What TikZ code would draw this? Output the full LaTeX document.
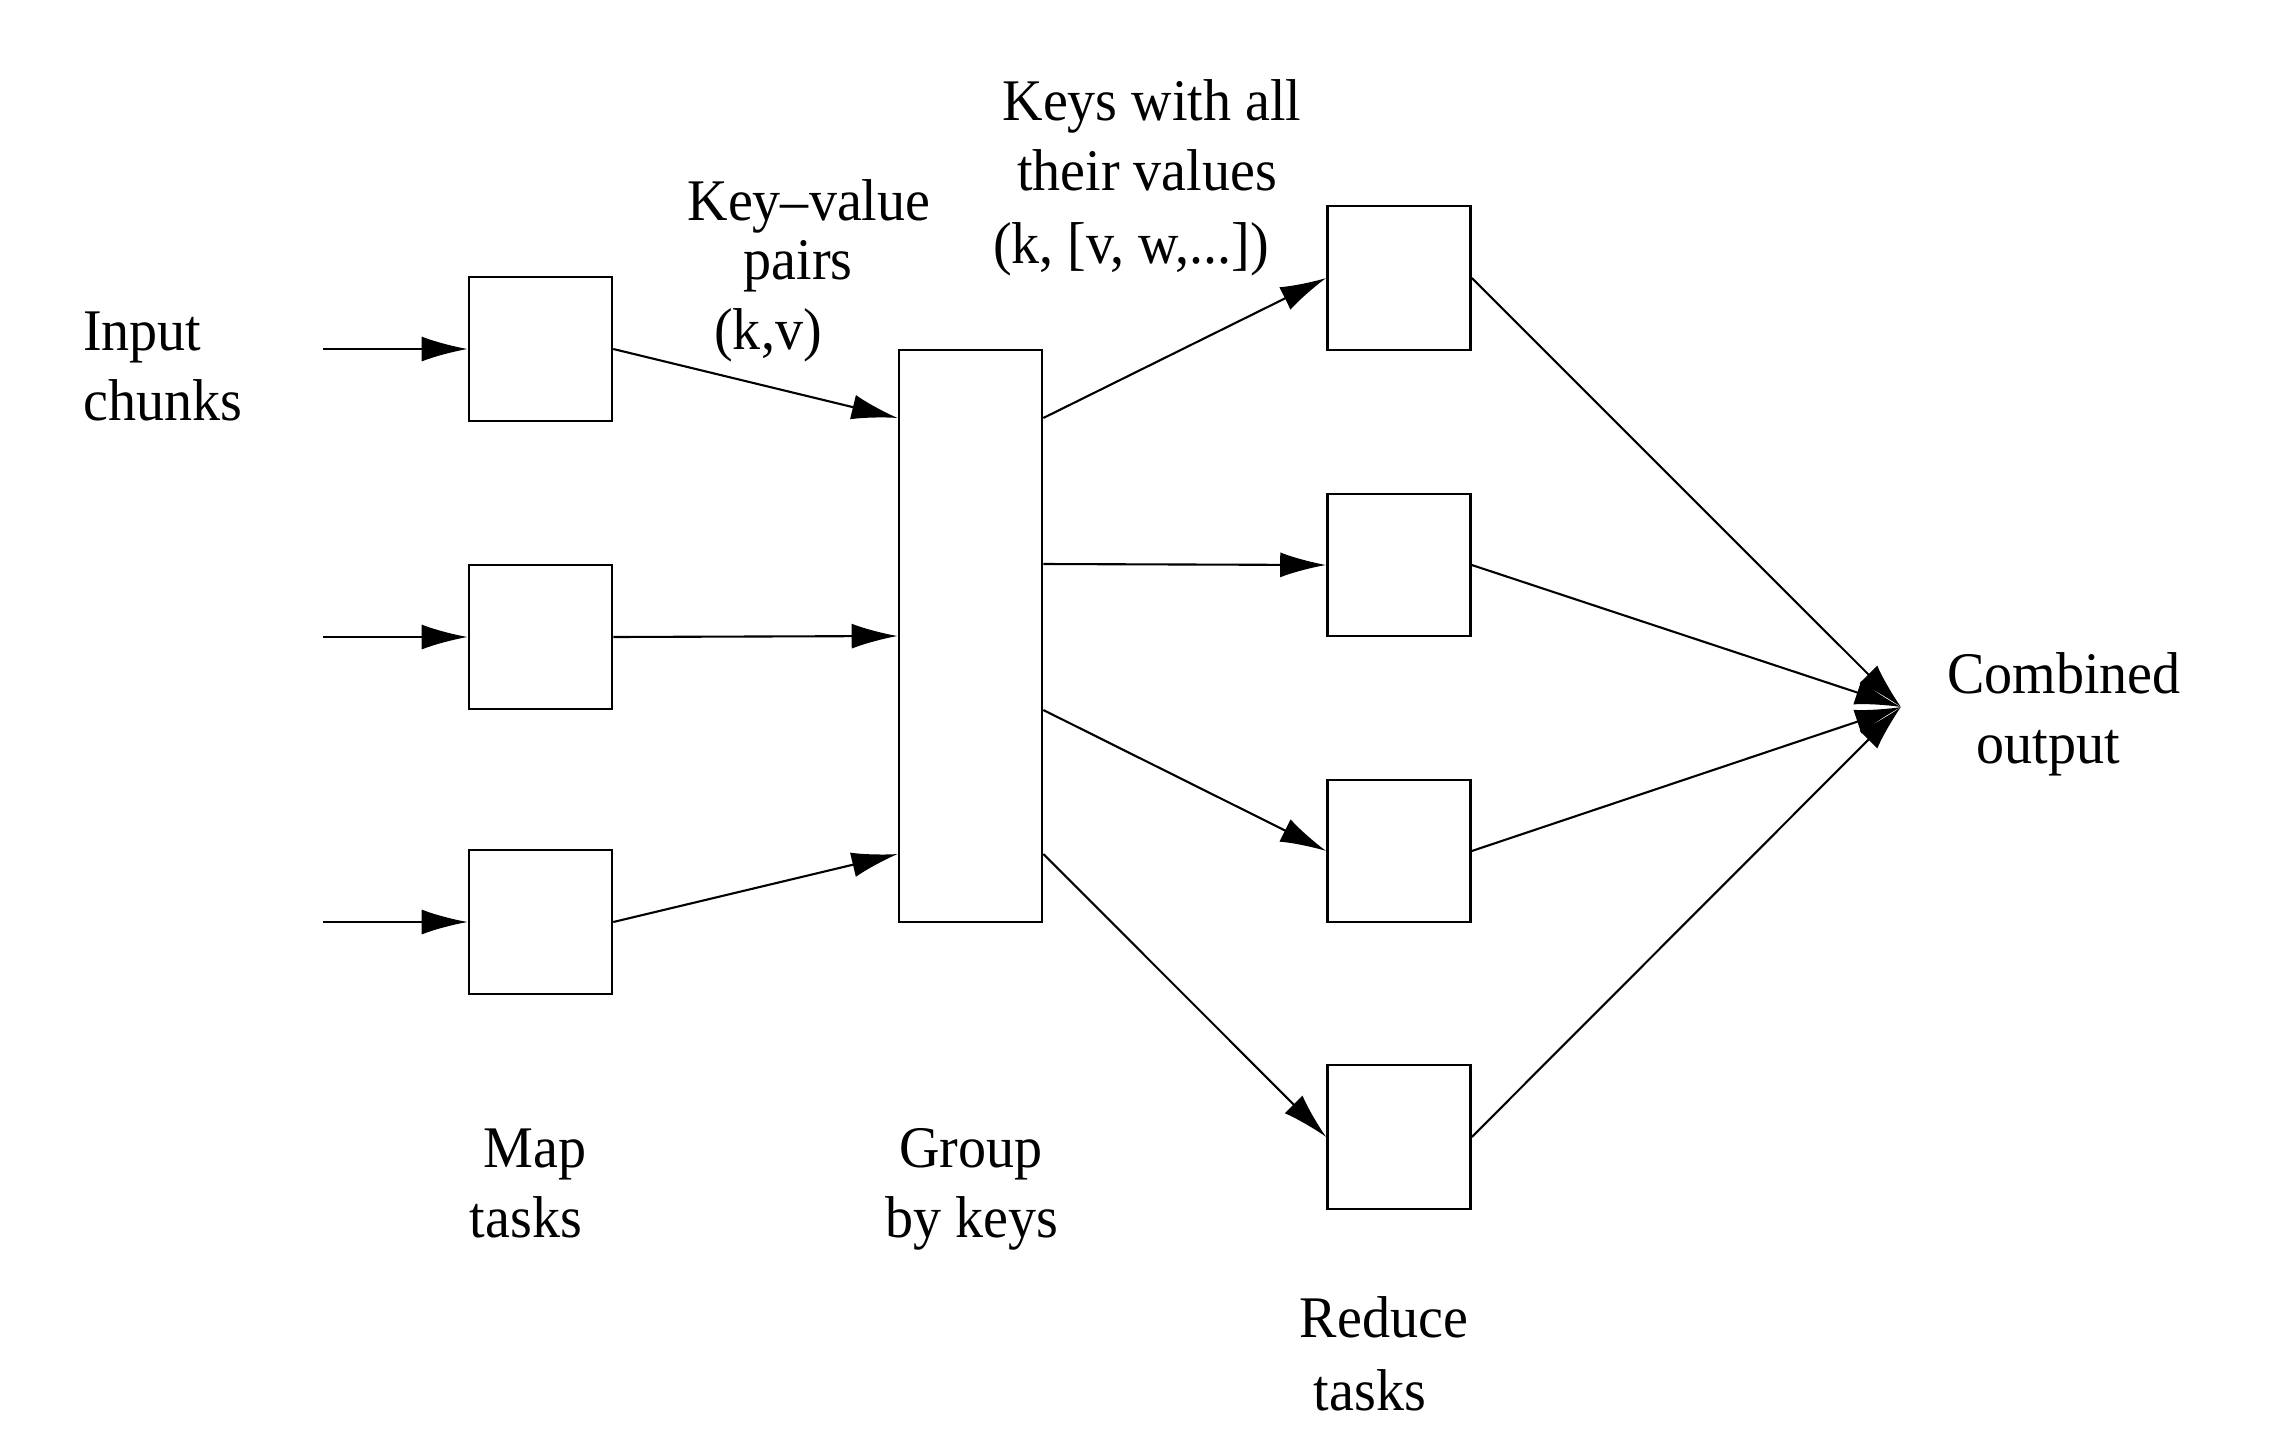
\documentclass[tikz,border=0pt]{standalone}
\usepackage{fontspec}
\setmainfont{Liberation Serif}[FakeStretch=0.95]
\usetikzlibrary{arrows.meta,calc}
\begin{document}
\begin{tikzpicture}[x=1pt,y=-1pt,
  box/.style={draw=black,line width=2.6pt,inner sep=0pt,minimum width=143pt},
  lbl/.style={font=\fontsize{59}{70}\selectfont,inner sep=0pt,anchor=base},
  lblw/.style={lbl,anchor=base west},
  arr/.style={draw=black,line width=2.1pt,-{Latex[length=46pt,width=25pt]}}]
\fill[white] (0,0) rectangle (2278,1454);
\useasboundingbox (0,0) rectangle (2278,1454);
% map boxes
\node[box,minimum height=144pt] (m1) at (540.5,349) {};
\node[box,minimum height=144pt] (m2) at (540.5,637) {};
\node[box,minimum height=144pt] (m3) at (540.5,922) {};
% group box
\node[box,minimum height=572pt] (g) at (970.5,636) {};
% reduce boxes
\node[box,minimum height=144pt] (r1) at (1399,278) {};
\node[box,minimum height=142pt] (r2) at (1399,565) {};
\node[box,minimum height=142pt] (r3) at (1399,851) {};
\node[box,minimum height=144pt] (r4) at (1399,1137) {};
% input start points
\coordinate (i1) at (323,349);
\coordinate (i2) at (323,637);
\coordinate (i3) at (323,922);
\coordinate (out) at (1901,707);
% group attach points
\coordinate (ga1) at ($(g.west)+(0,-218)$);
\coordinate (ga3) at ($(g.west)+(0,218)$);
\coordinate (gd1) at ($(g.east)+(0,-218)$);
\coordinate (gd2) at ($(g.east)+(0,-72)$);
\coordinate (gd3) at ($(g.east)+(0,74)$);
\coordinate (gd4) at ($(g.east)+(0,218)$);
% arrows
\draw[arr] (i1) -- (m1);
\draw[arr] (i2) -- (m2);
\draw[arr] (i3) -- (m3);
\draw[arr] (m1.east) -- (ga1);
\draw[arr] (m2.east) -- (g.west);
\draw[arr] (m3.east) -- (ga3);
\draw[arr] (gd1) -- (r1.west);
\draw[arr] (gd2) -- (r2.west);
\draw[arr] (gd3) -- (r3.west);
\draw[arr] (gd4) -- (r4.west);
\draw[arr] (r1.east) -- (out);
\draw[arr] (r2.east) -- (out);
\draw[arr] (r3.east) -- (out);
\draw[arr] (r4.east) -- (out);
% labels
\node[lblw] (tin1) at (83,350) {Input};
\node[lblw] (tin2) at (83,420) {chunks};
\node[lbl] (tkv1) at (809,220) {Key--value};
\node[lbl] (tkv2) at (798,279) {pairs};
\node[lbl] (tkv3) at (768,349) {(k,v)};
\node[lbl] (tk1) at (1152,120) {Keys with all};
\node[lbl] (tk2) at (1147,190) {their values};
\node[lbl] (tk3) at (1131,263) {(k, [v, w,...])};
\node[lbl] (tc1) at (2064,693) {Combined};
\node[lbl] (tc2) at (2048,763) {output};
\node[lbl] (tm1) at (535,1167) {Map};
\node[lbl] (tm2) at (526,1237) {tasks};
\node[lbl] (tg1) at (971,1167) {Group};
\node[lbl] (tg2) at (972,1237) {by keys};
\node[lbl] (tr1) at (1384,1337) {Reduce};
\node[lbl] (tr2) at (1370,1410) {tasks};
\end{tikzpicture}
\end{document}
